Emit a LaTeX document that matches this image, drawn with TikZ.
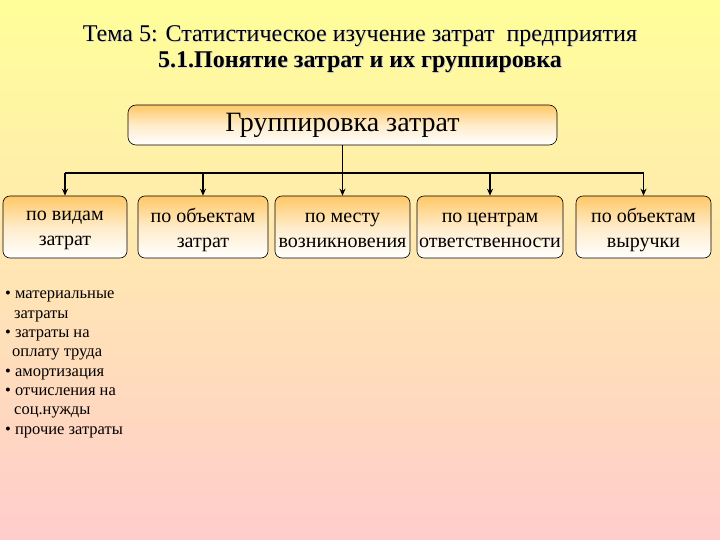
\documentclass[tikz,border=0pt]{standalone}
\usepackage{fontspec}
\setmainfont{Liberation Serif}
\usetikzlibrary{arrows.meta}
\definecolor{bgtop}{HTML}{FFFF99}
\definecolor{bgbot}{HTML}{FFCCCC}
\definecolor{boxtop}{HTML}{FFC866}
\tikzset{
  catbox/.style={draw=black, line width=0.6pt, rounded corners=7pt, top color=boxtop, bottom color=white, middle color=boxtop!35!white, inner sep=0pt},
  boxtxt/.style={font=\fontsize{20}{25}\selectfont, align=center, yshift=-3pt, inner sep=0pt},
  conn/.style={line width=1.2pt, -{Stealth[length=7pt,width=6pt]}},
  plain/.style={line width=1.2pt},
  titletxt/.style={font=\fontsize{24}{28}\selectfont, align=center}
}
\begin{document}
\begin{tikzpicture}[x=1pt,y=-1pt]
\shade[top color=bgtop, bottom color=bgbot] (0,0) rectangle (720,540);
\useasboundingbox (0,0) rectangle (720,540);
\node[titletxt, text=black!15] at (361,37) {Тема 5: Статистическое изучение затрат\ \ предприятия};
\node[titletxt] (t1) at (360,36) {Тема 5: Статистическое изучение затрат\ \ предприятия};
\node[titletxt, font=\fontsize{24}{28}\selectfont\bfseries, text=black!15] at (361,63) {5.1.Понятие затрат и их группировка};
\node[titletxt, font=\fontsize{24}{28}\selectfont\bfseries] (t2) at (360,62) {5.1.Понятие затрат и их группировка};

\node[catbox, minimum width=429pt, minimum height=40pt, font=\fontsize{28}{32}\selectfont, rounded corners=8pt] (main) at (342.5,125) {Группировка затрат};

\node[catbox, minimum width=124pt, minimum height=62pt, label={[boxtxt]center:по видам\\затрат}] (b1) at (65,227) {};
\node[catbox, minimum width=130pt, minimum height=62pt, label={[boxtxt]center:по объектам\\затрат}] (b2) at (203,227) {};
\node[catbox, minimum width=135pt, minimum height=62pt, label={[boxtxt]center:по месту\\возникновения}] (b3) at (342.5,227) {};
\node[catbox, minimum width=146pt, minimum height=62pt, label={[boxtxt]center:по центрам\\ответственности}] (b4) at (490,227) {};
\node[catbox, minimum width=135pt, minimum height=62pt, label={[boxtxt]center:по объектам\\выручки}] (b5) at (643.5,227) {};

\coordinate (hl) at (65,173);
\coordinate (hr) at (643.5,173);
\draw[plain] (hl) -- (hr);
\draw[conn] (main.south) -- (b3.north);
\draw[conn] (hl) -- (b1.north);
\draw[conn] (b2.north |- hl) -- (b2.north);
\draw[conn] (b4.north |- hl) -- (b4.north);
\draw[conn] (hr) -- (b5.north);

\node[anchor=north west, align=left, font=\fontsize{16.5}{19.3}\selectfont, inner sep=0pt] (list) at (5,291) {%
• материальные\\
\hspace{9pt}затраты\\
• затраты на\\
\hspace{7pt}оплату труда\\
• амортизация\\
• отчисления на\\
\hspace{9pt}соц.нужды\\
• прочие затраты};
\end{tikzpicture}
\end{document}
